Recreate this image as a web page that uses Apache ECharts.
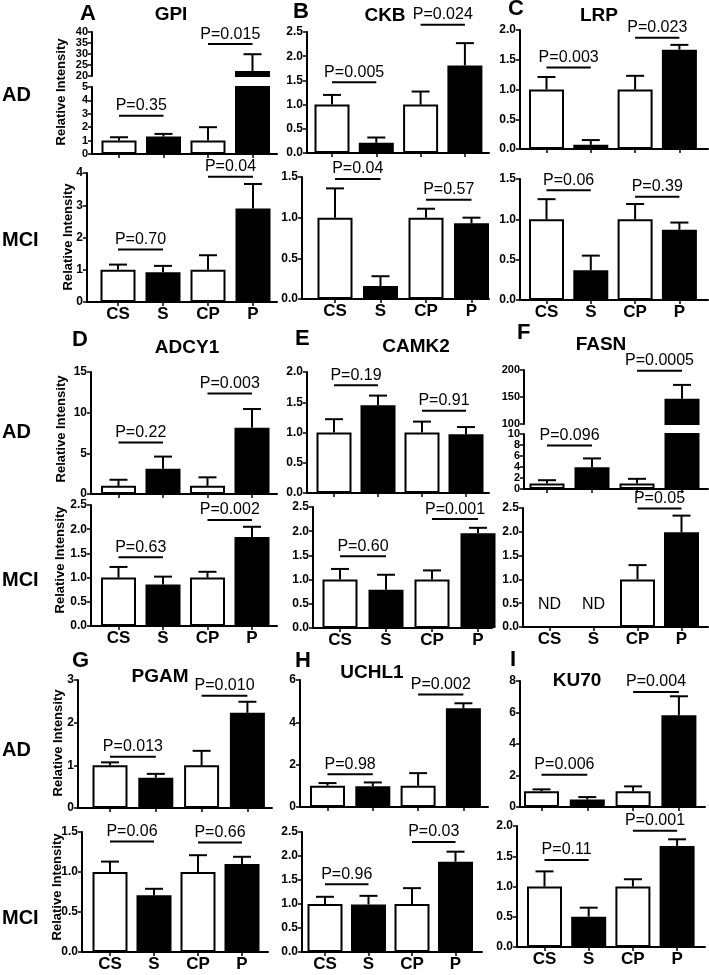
<!DOCTYPE html>
<html><head><meta charset="utf-8">
<script src="https://cdn.jsdelivr.net/npm/echarts@6/dist/echarts.min.js"></script>
<style>html,body{margin:0;padding:0;background:#fff}#c{width:709px;height:975px}</style>
</head><body><div id="c"></div>
<script>
const groups = ['CS', 'S', 'CP', 'P'];
const proteins = ['GPI', 'CKB', 'LRP', 'ADCY1', 'CAMK2', 'FASN', 'PGAM', 'UCHL1', 'KU70'];
const letters = ['A', 'B', 'C', 'D', 'E', 'F', 'G', 'H', 'I'];
const rowLabels = ['AD', 'MCI'];
const yTitle = 'Relative Intensity';
const ndText = 'ND';
const ndY = 0.47;

// GPI
const gpiAD = [1.0, 1.3, 1.0, 22.3];
const gpiADSem = [0.25, 0.2, 1.0, 7.6];
const gpiADPv = ['P=0.35', 'P=0.015'];
const gpiADPy = [2.85, 34.5];
const gpiMCI = [1.0, 0.92, 1.0, 2.9];
const gpiMCISem = [0.16, 0.2, 0.45, 0.76];
const gpiMCIPv = ['P=0.70', 'P=0.04'];
const gpiMCIPy = [1.63, 3.88];
// CKB
const ckbAD = [1.0, 0.21, 1.0, 1.81];
const ckbADSem = [0.2, 0.11, 0.27, 0.46];
const ckbADPv = ['P=0.005', 'P=0.024'];
const ckbADPy = [1.46, 2.65];
const ckbMCI = [1.0, 0.16, 1.0, 0.93];
const ckbMCISem = [0.36, 0.12, 0.11, 0.07];
const ckbMCIPv = ['P=0.04', 'P=0.57'];
const ckbMCIPy = [1.475, 1.22];
// LRP
const lrpAD = [1.0, 0.07, 1.0, 1.67];
const lrpADSem = [0.21, 0.08, 0.23, 0.08];
const lrpADPv = ['P=0.003', 'P=0.023'];
const lrpADPy = [1.37, 1.87];
const lrpMCI = [1.0, 0.37, 1.0, 0.87];
const lrpMCISem = [0.25, 0.18, 0.19, 0.09];
const lrpMCIPv = ['P=0.06', 'P=0.39'];
const lrpMCIPy = [1.36, 1.28];
// ADCY1
const adcy1AD = [1.0, 3.1, 1.0, 8.15];
const adcy1ADSem = [0.75, 1.5, 1.05, 2.3];
const adcy1ADPv = ['P=0.22', 'P=0.003'];
const adcy1ADPy = [6.34, 12.35];
const adcy1MCI = [1.0, 0.86, 1.0, 1.84];
const adcy1MCISem = [0.22, 0.16, 0.12, 0.21];
const adcy1MCIPv = ['P=0.63', 'P=0.002'];
const adcy1MCIPy = [1.42, 2.19];
// CAMK2
const camk2AD = [1.0, 1.45, 1.0, 0.97];
const camk2ADSem = [0.22, 0.16, 0.18, 0.12];
const camk2ADPv = ['P=0.19', 'P=0.91'];
const camk2ADPy = [1.78, 1.36];
const camk2MCI = [1.0, 0.79, 1.0, 1.96];
const camk2MCISem = [0.22, 0.31, 0.19, 0.11];
const camk2MCIPv = ['P=0.60', 'P=0.001'];
const camk2MCIPy = [1.48, 2.25];
// FASN
const fasnAD = [1.0, 3.96, 1.0, 146.6];
const fasnADSem = [0.6, 1.6, 0.85, 25.8];
const fasnADPv = ['P=0.096', 'P=0.0005'];
const fasnADPy = [7.93, 198.8];
const fasnMCI = [null, null, 1.0, 1.99];
const fasnMCISem = [null, null, 0.3, 0.35];
const fasnMCIPv = [null, 'P=0.05'];
const fasnMCIPy = [null, 2.49];
// PGAM
const pgamAD = [1.0, 0.71, 1.0, 2.23];
const pgamADSem = [0.07, 0.09, 0.34, 0.26];
const pgamADPv = ['P=0.013', 'P=0.010'];
const pgamADPy = [1.2, 2.63];
const pgamMCI = [1.0, 0.71, 1.0, 1.1];
const pgamMCISem = [0.13, 0.08, 0.21, 0.09];
const pgamMCIPv = ['P=0.06', 'P=0.66'];
const pgamMCIPy = [1.38, 1.37];
// UCHL1
const uchl1AD = [1.0, 0.98, 1.0, 4.66];
const uchl1ADSem = [0.13, 0.18, 0.6, 0.24];
const uchl1ADPv = ['P=0.98', 'P=0.002'];
const uchl1ADPy = [1.55, 5.32];
const uchl1MCI = [1.0, 0.99, 1.0, 1.88];
const uchl1MCISem = [0.15, 0.18, 0.33, 0.21];
const uchl1MCIPv = ['P=0.96', 'P=0.03'];
const uchl1MCIPy = [1.41, 2.29];
// KU70
const ku70AD = [1.0, 0.47, 1.0, 5.82];
const ku70ADSem = [0.12, 0.16, 0.31, 1.21];
const ku70ADPv = ['P=0.006', 'P=0.004'];
const ku70ADPy = [2.05, 7.3];
const ku70MCI = [1.0, 0.5, 1.0, 1.67];
const ku70MCISem = [0.25, 0.15, 0.12, 0.11];
const ku70MCIPv = ['P=0.11', 'P=0.001'];
const ku70MCIPy = [1.44, 1.92];

const panelData = [
  [[gpiAD, gpiADSem, gpiADPv, gpiADPy], [gpiMCI, gpiMCISem, gpiMCIPv, gpiMCIPy]],
  [[ckbAD, ckbADSem, ckbADPv, ckbADPy], [ckbMCI, ckbMCISem, ckbMCIPv, ckbMCIPy]],
  [[lrpAD, lrpADSem, lrpADPv, lrpADPy], [lrpMCI, lrpMCISem, lrpMCIPv, lrpMCIPy]],
  [[adcy1AD, adcy1ADSem, adcy1ADPv, adcy1ADPy], [adcy1MCI, adcy1MCISem, adcy1MCIPv, adcy1MCIPy]],
  [[camk2AD, camk2ADSem, camk2ADPv, camk2ADPy], [camk2MCI, camk2MCISem, camk2MCIPv, camk2MCIPy]],
  [[fasnAD, fasnADSem, fasnADPv, fasnADPy], [fasnMCI, fasnMCISem, fasnMCIPv, fasnMCIPy]],
  [[pgamAD, pgamADSem, pgamADPv, pgamADPy], [pgamMCI, pgamMCISem, pgamMCIPv, pgamMCIPy]],
  [[uchl1AD, uchl1ADSem, uchl1ADPv, uchl1ADPy], [uchl1MCI, uchl1MCISem, uchl1MCIPv, uchl1MCIPy]],
  [[ku70AD, ku70ADSem, ku70ADPv, ku70ADPy], [ku70MCI, ku70MCISem, ku70MCIPv, ku70MCIPy]]
];

// ---- layout (pixels) ----
const layout = [
  [{x: 92, r: 277, c0: 119, sp: 44.5, segs: [{t: 32, b: 76, min: 20, max: 40, step: 5}, {t: 87, b: 154, min: 0, max: 5, step: 1}]},
   {x: 87, r: 277, c0: 118, sp: 45, segs: [{t: 173, b: 302, min: 0, max: 4, step: 1}]}],
  [{x: 307, r: 489, c0: 332, sp: 44.3, segs: [{t: 32, b: 153, min: 0, max: 2.5, step: 0.5}]},
   {x: 302, r: 489, c0: 335, sp: 45.5, segs: [{t: 177, b: 299, min: 0, max: 1.5, step: 0.5}]}],
  [{x: 520, r: 708, c0: 546.5, sp: 44.3, segs: [{t: 30, b: 149, min: 0, max: 2, step: 0.5}]},
   {x: 520, r: 708, c0: 546.5, sp: 44.3, segs: [{t: 179, b: 300, min: 0, max: 1.5, step: 0.5}]}],
  [{x: 91, r: 277, c0: 118.5, sp: 44.5, segs: [{t: 372, b: 494, min: 0, max: 15, step: 5}]},
   {x: 91, r: 277, c0: 118.5, sp: 44.5, segs: [{t: 505, b: 626, min: 0, max: 2.5, step: 0.5}]}],
  [{x: 307, r: 489, c0: 334, sp: 44, segs: [{t: 372, b: 493, min: 0, max: 2, step: 0.5}]},
   {x: 313, r: 492, c0: 340, sp: 46, segs: [{t: 507, b: 628, min: 0, max: 2.5, step: 0.5}]}],
  [{x: 524, r: 708, c0: 547, sp: 45, segs: [{t: 370, b: 424, min: 100, max: 200, step: 50}, {t: 434, b: 489, min: 0, max: 10, step: 2}]},
   {x: 523, r: 708, c0: 549.5, sp: 44, segs: [{t: 508, b: 627, min: 0, max: 2.5, step: 0.5}]}],
  [{x: 78, r: 272, c0: 110, sp: 45.8, segs: [{t: 680, b: 808, min: 0, max: 3, step: 1}]},
   {x: 82, r: 268, c0: 110, sp: 44, segs: [{t: 832, b: 952, min: 0, max: 1.5, step: 0.5}]}],
  [{x: 300, r: 488, c0: 327.5, sp: 45.3, segs: [{t: 680, b: 807, min: 0, max: 6, step: 2}]},
   {x: 302, r: 482, c0: 325, sp: 43.5, segs: [{t: 832, b: 952, min: 0, max: 2.5, step: 0.5}]}],
  [{x: 520, r: 705, c0: 541.5, sp: 45.8, segs: [{t: 681, b: 807, min: 0, max: 8, step: 2}]},
   {x: 517, r: 705, c0: 544.5, sp: 44.2, segs: [{t: 826, b: 947, min: 0, max: 2, step: 0.5}]}]
];
const letterPos = [[80, 14], [293, 12], [508, 9], [72, 340], [295, 339], [517, 333], [72, 661], [295, 661], [510, 660]];
const titlePos = [[171, 15], [385, 16], [599, 16], [187, 348], [416, 347], [601, 345], [160, 677], [372, 673], [577, 681]];
const rowLabelPos = [[2, 95], [2, 240], [2, 432], [2, 580], [2, 750], [2, 918]];
const yTitlePos = [[61, 92], [68, 237], [61, 429], [60, 560], [58, 743], [57, 887]];

const FF = '"Liberation Sans", Arial, Helvetica, sans-serif';
const grid = [], xAxis = [], yAxis = [], series = [];

function errItem(params, api) {
  const x = api.value(0), m = api.value(1), e = api.value(2);
  const a = api.coord([x, m]), b = api.coord([x, m + e]);
  const st = {stroke: '#000', lineWidth: 2};
  return {type: 'group', children: [
    {type: 'line', shape: {x1: a[0], y1: a[1], x2: b[0], y2: b[1]}, style: st},
    {type: 'line', shape: {x1: b[0] - 9, y1: b[1], x2: b[0] + 9, y2: b[1]}, style: st}
  ]};
}
function bracketItem(label) {
  return function (params, api) {
    const a = api.coord([api.value(0), api.value(2)]);
    const b = api.coord([api.value(1), api.value(2)]);
    return {type: 'group', children: [
      {type: 'line', shape: {x1: a[0], y1: a[1], x2: b[0], y2: b[1]}, style: {stroke: '#000', lineWidth: 2}},
      {type: 'text', x: (a[0] + b[0]) / 2, y: a[1] - 2,
       style: {text: label, fill: '#000', font: '16px ' + FF, align: 'center', verticalAlign: 'bottom'}}
    ]};
  };
}
function ndItem(params, api) {
  const p = api.coord([api.value(0), api.value(1)]);
  return {type: 'text', x: p[0], y: p[1],
          style: {text: ndText, fill: '#000', font: '16px ' + FF, align: 'center', verticalAlign: 'middle'}};
}

function subplot(spec, d, showX) {
  const [means, sems, pv, py] = d;
  const segs = spec.segs;
  const broken = segs.length > 1;
  const xmin = -(spec.c0 - spec.x) / spec.sp, xmax = (spec.r - spec.c0) / spec.sp;
  const segOf = v => segs.findIndex(s => v >= s.min);
  segs.forEach((s, j) => {
    const gi = grid.length;
    const isBottom = j === segs.length - 1;
    grid.push({left: spec.x, top: s.t, width: spec.r - spec.x, height: s.b - s.t,
               containLabel: false, outerBoundsMode: 'none'});
    xAxis.push({gridIndex: gi, type: 'value', min: xmin, max: xmax, show: isBottom,
      axisLine: {show: true, onZero: false, lineStyle: {color: '#000', width: 2}},
      axisTick: {show: true, customValues: [0, 1, 2, 3], length: 4, inside: false, lineStyle: {color: '#000', width: 1.5}},
      axisLabel: {show: showX, customValues: [0, 1, 2, 3], formatter: v => groups[Math.round(v)],
                  color: '#000', fontSize: 17, fontWeight: 'bold', fontFamily: FF, margin: 4},
      splitLine: {show: false}});
    yAxis.push({gridIndex: gi, type: 'value', min: s.min, max: s.max, interval: s.step,
      axisLine: {show: true, onZero: false, lineStyle: {color: '#000', width: 2}},
      axisTick: {show: true, length: 4, inside: false, lineStyle: {color: '#000', width: 1.5}},
      axisLabel: {color: '#000', fontSize: broken ? 11 : 12, fontWeight: 'bold', fontFamily: FF, margin: 4,
                  showMinLabel: true, showMaxLabel: true, hideOverlap: false, lineHeight: 11,
                  formatter: v => s.step < 1 ? v.toFixed(1) : String(v)},
      splitLine: {show: false}});
    const barData = [];
    const errData = [];
    means.forEach((v, i) => {
      if (v == null) return;
      if (v > s.min || isBottom) barData.push({value: [i, v], itemStyle: {color: i % 2 ? '#000' : '#fff'}});
      if (segOf(v) === j) errData.push([i, v, sems[i]]);
    });
    series.push({type: 'bar', xAxisIndex: gi, yAxisIndex: gi, barWidth: 35, clip: true,
      itemStyle: {borderColor: '#000', borderWidth: 2}, data: barData, z: 2, silent: true});
    series.push({type: 'custom', xAxisIndex: gi, yAxisIndex: gi, clip: false, z: 3,
      encode: {x: 0, y: 1}, renderItem: errItem, data: errData, silent: true});
    pv.forEach((label, k) => {
      if (label == null || segOf(py[k]) !== j) return;
      series.push({type: 'custom', xAxisIndex: gi, yAxisIndex: gi, clip: false, z: 4,
        encode: {x: [0, 1], y: 2}, renderItem: bracketItem(label), data: [[2 * k, 2 * k + 1, py[k]]], silent: true});
    });
    const nd = [];
    means.forEach((v, i) => { if (v == null) nd.push([i, ndY]); });
    if (nd.length && isBottom) {
      series.push({type: 'custom', xAxisIndex: gi, yAxisIndex: gi, clip: false, z: 4,
        encode: {x: 0, y: 1}, renderItem: ndItem, data: nd, silent: true});
    }
  });
}

panelData.forEach((pd, p) => {
  subplot(layout[p][0], pd[0], false);
  subplot(layout[p][1], pd[1], true);
});

const graphic = [];
letters.forEach((L, p) => {
  graphic.push({type: 'text', x: letterPos[p][0], y: letterPos[p][1],
    style: {text: L, fill: '#000', font: 'bold 22px ' + FF, align: 'left', verticalAlign: 'middle'}});
  graphic.push({type: 'text', x: titlePos[p][0], y: titlePos[p][1],
    style: {text: proteins[p], fill: '#000', font: 'bold 19px ' + FF, align: 'center', verticalAlign: 'middle'}});
});
rowLabelPos.forEach((pos, k) => {
  graphic.push({type: 'text', x: pos[0], y: pos[1],
    style: {text: rowLabels[k % 2], fill: '#000', font: 'bold 20px ' + FF, align: 'left', verticalAlign: 'middle'}});
});
yTitlePos.forEach(pos => {
  graphic.push({type: 'text', x: pos[0], y: pos[1], rotation: Math.PI / 2,
    style: {text: yTitle, fill: '#000', font: 'bold 13px ' + FF, align: 'center', verticalAlign: 'middle'}});
});

const chart = echarts.init(document.getElementById('c'), null, {renderer: 'canvas'});
chart.setOption({animation: false, backgroundColor: '#fff', grid, xAxis, yAxis, series, graphic});
</script>
</body></html>
